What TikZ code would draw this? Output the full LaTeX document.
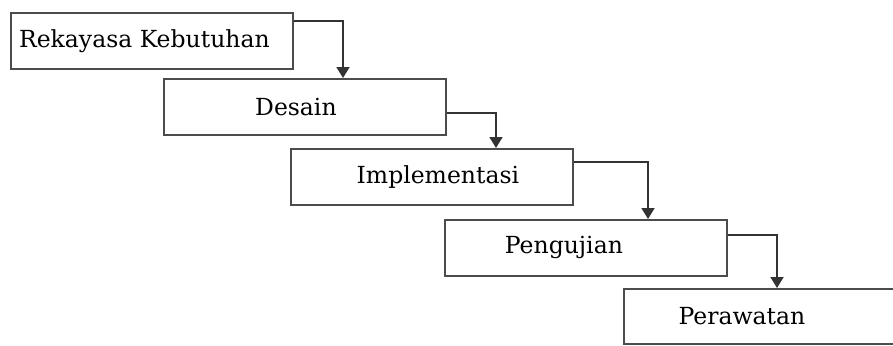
\documentclass[tikz,border=0pt]{standalone}
\usepackage{fontspec}
\setmainfont{DejaVu Serif}
\usetikzlibrary{arrows.meta}
\begin{document}
\begin{tikzpicture}[x=1pt,y=-1pt]
		\useasboundingbox (0,0) rectangle (893,345);
		\begin{scope}[every node/.style={rectangle, draw=black!70, line width=1.8pt, anchor=north west, minimum height=56pt, minimum width=282pt, inner sep=0pt, font=\fontsize{23.5}{26}\selectfont, text=black}]
			\node (RK) at (10,12) {Rekayasa Kebutuhan\hspace*{15pt}};
			\node (DS) at (163,78) {Desain\hspace*{18pt}};
			\node (IM) at (290,148) {\hspace*{12pt}Implementasi};
			\node (PG) at (444,219) {Pengujian\hspace*{44pt}};
			\node[minimum height=55pt, minimum width=320pt] (PW) at (623,288) {Perawatan\hspace*{84pt}};
		\end{scope}
		\begin{scope}[every path/.style={draw=black!80, line width=1.8pt, -{Triangle[width=13pt,length=11pt]}}]
			\draw ([yshift=-9pt]RK.north east) -| ([xshift=180pt]DS.north west);
			\draw ([yshift=-35pt]DS.north east) -| ([xshift=206pt]IM.north west);
			\draw ([yshift=-14pt]IM.north east) -| ([xshift=204pt]PG.north west);
			\draw ([yshift=-16pt]PG.north east) -| ([xshift=154pt]PW.north west);
		\end{scope}
	\end{tikzpicture}
\end{document}
